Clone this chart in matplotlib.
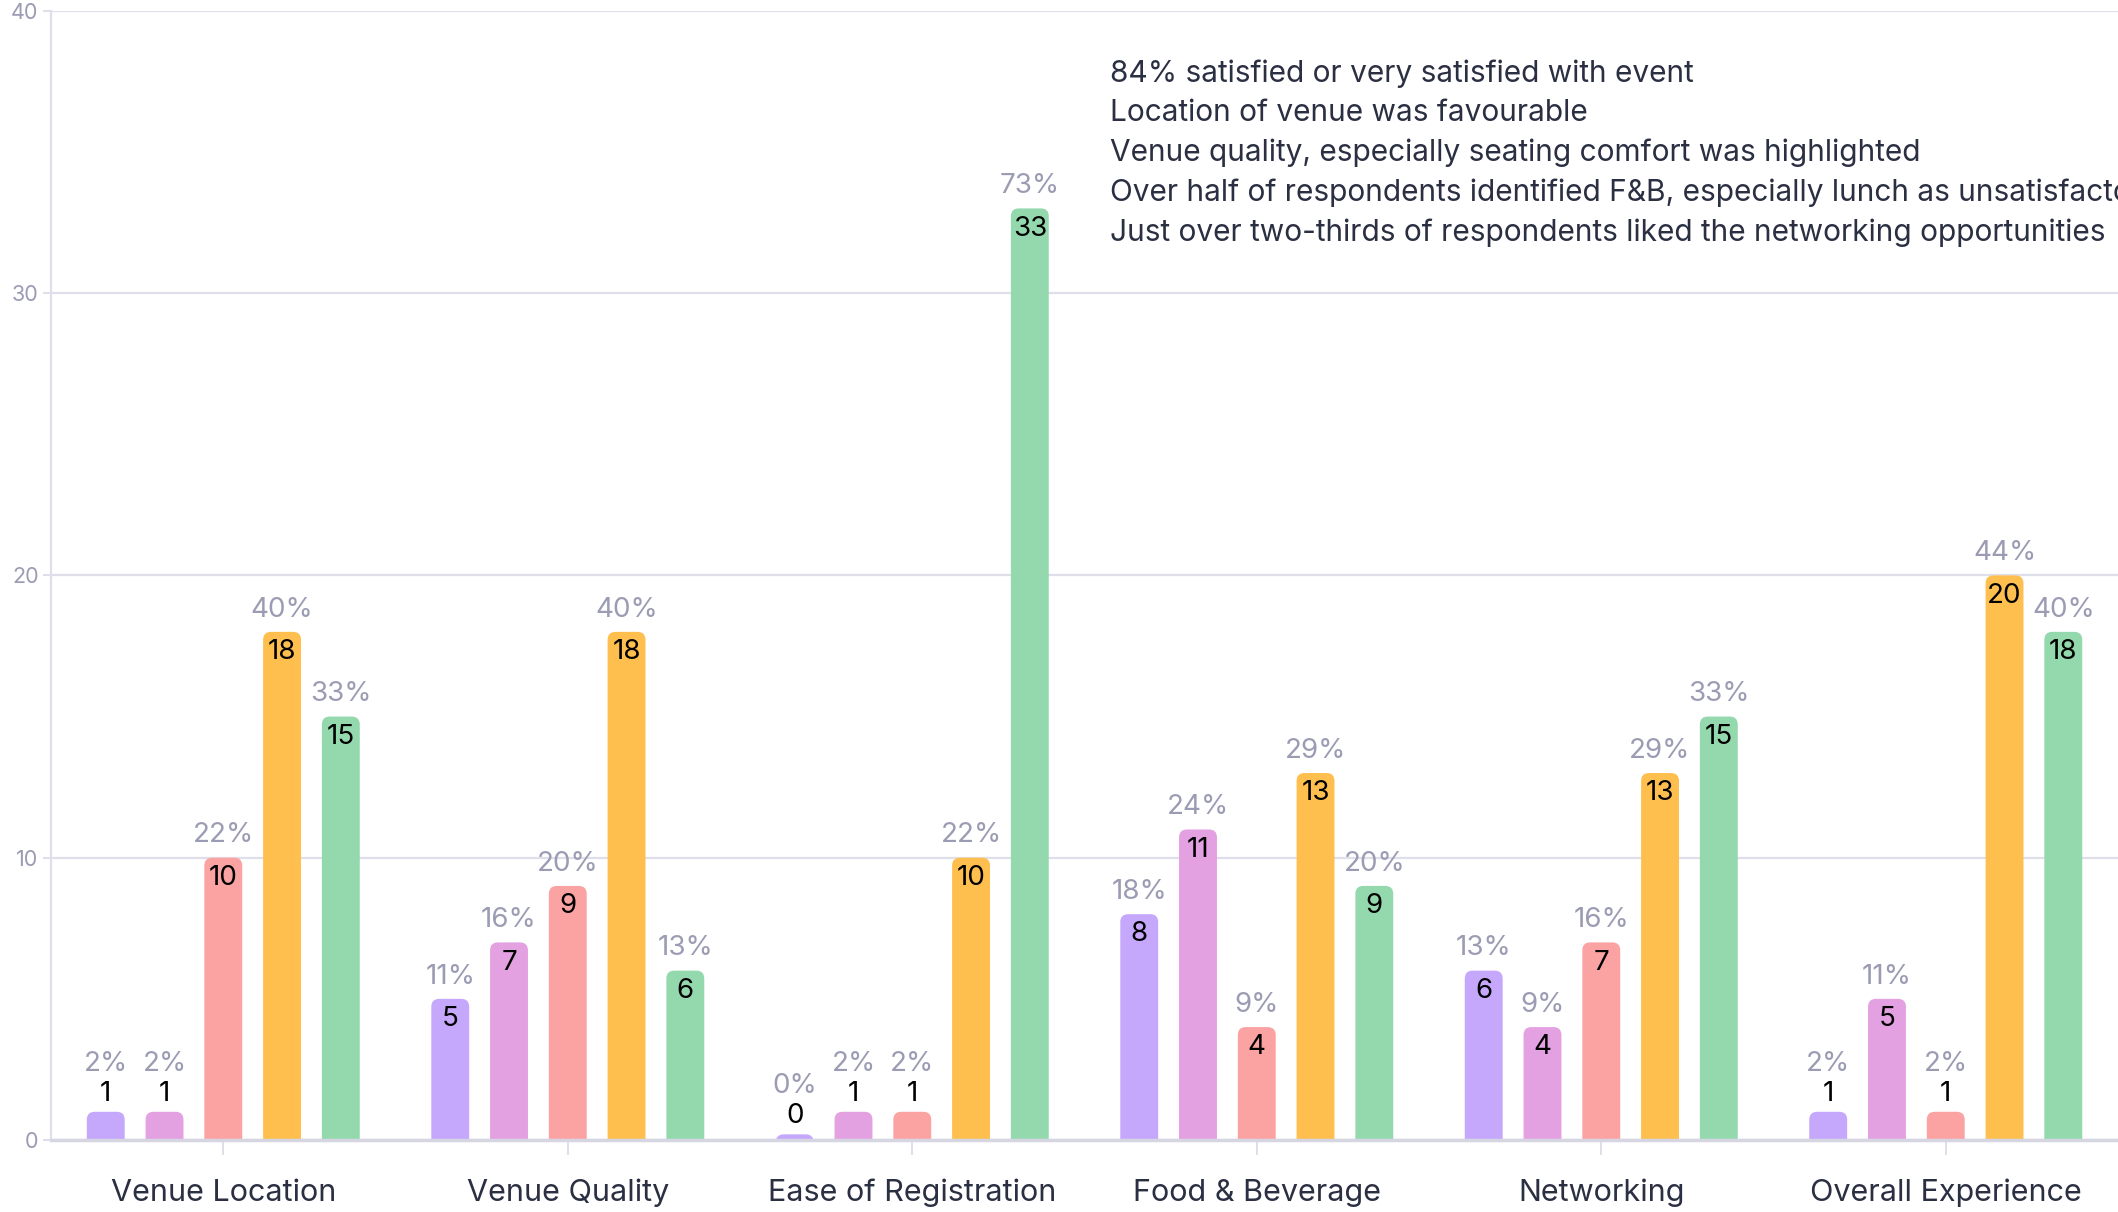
import matplotlib
matplotlib.use("Agg")
import matplotlib.pyplot as plt
from matplotlib.patches import FancyBboxPatch
import numpy as np

# ── Data ──────────────────────────────────────────────────────────────────────
CATEGORIES = ["Venue Location", "Venue Quality", "Ease of Registration",
              "Food & Beverage", "Networking", "Overall Experience"]

RATINGS = ["Very dissatisfied", "Dissatisfied", "Neutral", "Satisfied", "Very satisfied"]

very_dissatisfied = [1, 5, 0, 8, 6, 1]
dissatisfied      = [1, 7, 1, 11, 4, 5]
neutral           = [10, 9, 1, 4, 7, 1]
satisfied         = [18, 18, 10, 13, 13, 20]
very_satisfied    = [15, 6, 33, 9, 15, 18]

pct_very_dissatisfied = [2, 11, 0, 18, 13, 2]
pct_dissatisfied      = [2, 16, 2, 24, 9, 11]
pct_neutral           = [22, 20, 2, 9, 16, 2]
pct_satisfied         = [40, 40, 22, 29, 29, 44]
pct_very_satisfied    = [33, 13, 73, 20, 33, 40]

NOTES = [
    "84% satisfied or very satisfied with event",
    "Location of venue was favourable",
    "Venue quality, especially seating comfort was highlighted",
    "Over half of respondents identified F&B, especially lunch as unsatisfactory",
    "Just over two-thirds of respondents liked the networking opportunities",
]

# ── Style ─────────────────────────────────────────────────────────────────────
COLORS     = ["#c5a8fb", "#e3a1e1", "#fba3a3", "#ffbf4f", "#93d9ad"]
GRID_C     = "#dfdfeb"
TICK_TXT   = "#9b9bb3"
TEXT_C     = "#2b2f42"
FONT       = ["Inter", "DejaVu Sans"]

W, H, DPI  = 21.18, 12.12, 100
AX_POS     = [0.0241, 0.0594, 0.9759, 0.9317]
YMAX       = 40
BAR_W      = 0.11
STEP       = 0.1706
ROUND      = 0.023
MIN_H      = 0.2
VAL_SIZE   = 20

plt.rcParams["font.family"] = FONT

series = [very_dissatisfied, dissatisfied, neutral, satisfied, very_satisfied]
pcts   = [pct_very_dissatisfied, pct_dissatisfied, pct_neutral,
          pct_satisfied, pct_very_satisfied]

fig = plt.figure(figsize=(W, H), dpi=DPI)
ax = fig.add_axes(AX_POS)
n = len(CATEGORIES)
ax.set_xlim(-0.5, n - 0.5)
ax.set_ylim(0, YMAX)

# ratio of pixels per x-unit to pixels per y-unit, so the corner looks round
px_x = W * DPI * AX_POS[2] / n
px_y = H * DPI * AX_POS[3] / YMAX
aspect = px_x / px_y

x = np.arange(n)
for i, (vals, pc, color) in enumerate(zip(series, pcts, COLORS)):
    xs = x + (i - 2) * STEP
    for xi, v, p in zip(xs, vals, pc):
        h = max(v, MIN_H)
        patch = FancyBboxPatch((xi - BAR_W / 2, -1), BAR_W, h + 1,
                               boxstyle=f"round,pad=0,rounding_size={ROUND}",
                               mutation_aspect=aspect, fc=color, ec="none",
                               zorder=3, clip_on=True)
        ax.add_patch(patch)
        if v > 1:
            ax.annotate(str(v), (xi, v), xytext=(0, -14.5), textcoords="offset points",
                        ha="center", va="center", fontsize=VAL_SIZE, color="black", zorder=4)
            ax.annotate(f"{p}%", (xi, v), xytext=(0, 16), textcoords="offset points",
                        ha="center", va="center", fontsize=VAL_SIZE, color=TICK_TXT, zorder=4)
        else:
            ax.annotate(str(v), (xi, h), xytext=(0, 13), textcoords="offset points",
                        ha="center", va="center", fontsize=VAL_SIZE, color="black", zorder=4)
            ax.annotate(f"{p}%", (xi, h), xytext=(0, 34.5), textcoords="offset points",
                        ha="center", va="center", fontsize=VAL_SIZE, color=TICK_TXT, zorder=4)

# the notes run past the right edge, as in the original slide
ax.text(2.574, 34.95, "\n".join(NOTES), ha="left", va="center", fontsize=21.5,
        color=TEXT_C, linespacing=1.5, zorder=5)

# ── Axes styling ──────────────────────────────────────────────────────────────
ax.set_yticks(range(0, YMAX + 1, 10))
ax.yaxis.grid(True, color=GRID_C, linewidth=1.6, zorder=0)
ax.set_axisbelow(True)
ax.tick_params(axis="y", length=6, width=1.4, color=GRID_C, labelcolor=TICK_TXT,
               labelsize=15.5, pad=3)
ax.set_xticks(x)
ax.set_xticklabels(CATEGORIES)
ax.tick_params(axis="x", length=11, width=1.4, color=GRID_C, labelcolor=TEXT_C,
               labelsize=22, pad=17)
for side in ["top", "right"]:
    ax.spines[side].set_visible(False)
ax.spines["left"].set_color(GRID_C)
ax.spines["left"].set_linewidth(1.6)
ax.spines["bottom"].set_color("#d6d6e2")
ax.spines["bottom"].set_linewidth(2.5)
ax.spines["bottom"].set_zorder(4)

fig.savefig("out.png", dpi=DPI)
